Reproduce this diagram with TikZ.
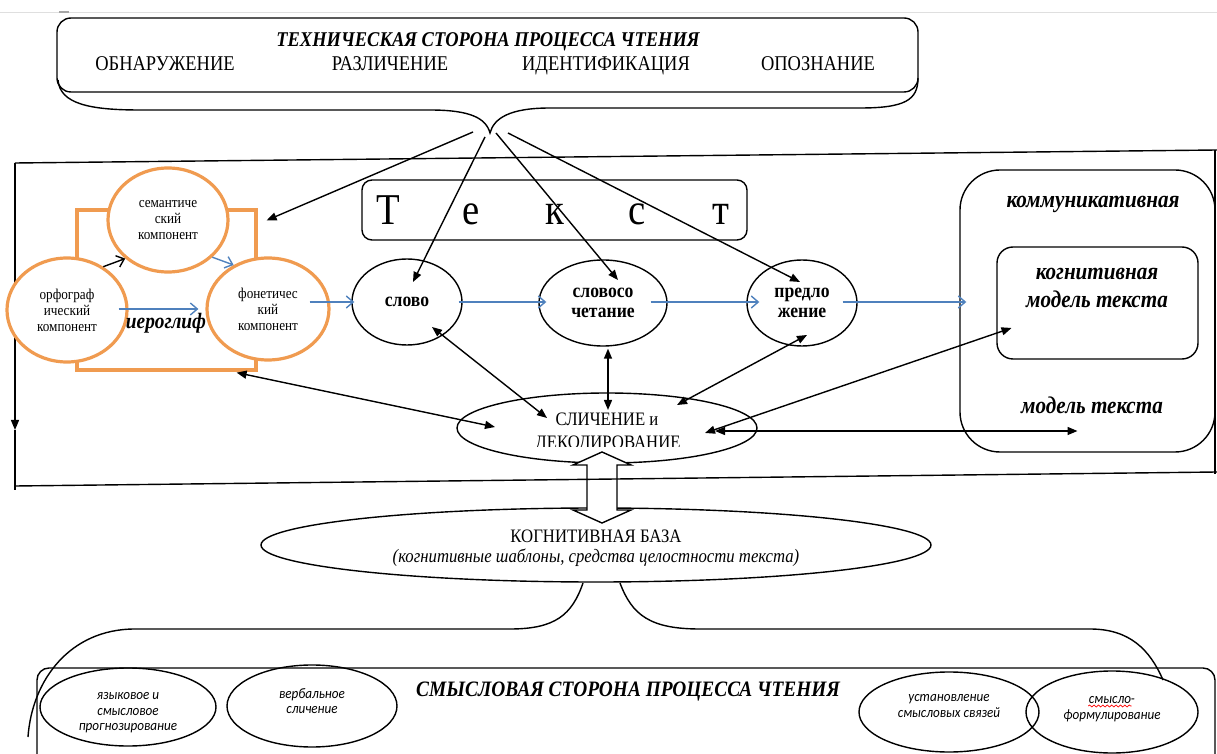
\documentclass[tikz,border=0pt]{standalone}
\usepackage{fontspec}
\setmainfont{Liberation Serif}[FakeStretch=0.88]
\newfontfamily\calib{Carlito}[FakeStretch=0.9]
\usetikzlibrary{arrows.meta,shapes.geometric,calc,decorations.pathmorphing}
\definecolor{orng}{RGB}{240,155,80}
\definecolor{blu}{RGB}{79,129,189}
\begin{document}
\begin{tikzpicture}[x=0.5pt,y=-0.5pt,line width=0.7pt,
  blk/.style={-{Triangle[length=5pt,width=4pt]}},
  dbl/.style={{Triangle[length=5pt,width=4pt]}-{Triangle[length=5pt,width=4pt]}},
  bl/.style={blu,line width=0.7pt,-{Straight Barb[length=3.5pt,width=6pt]}},
  kb/.style={-{Straight Barb[length=3.5pt,width=6pt]}},
  oell/.style={ellipse,draw=orng,line width=1.6pt,fill=white,inner sep=0pt,align=center,font=\fontsize{7.5}{8}\selectfont},
  bell/.style={ellipse,draw,fill=white,inner sep=0pt,align=center,font=\bfseries\fontsize{10}{10}\selectfont},
  sell/.style={ellipse,draw,inner sep=0pt},
  stxt/.style={align=center,inner sep=0pt,font=\calib\itshape\fontsize{7.3}{7.75}\selectfont},
  bi/.style={font=\bfseries\itshape\fontsize{#1}{#1}\selectfont,inner sep=0pt,text height=0.7em,text depth=0.15em},
  rg/.style={font=\fontsize{#1}{#1}\selectfont,inner sep=0pt,text height=0.7em,text depth=0.15em}
]
\useasboundingbox (0,0) rectangle (1217,754);
% faint top line
\draw[gray!25,line width=0.4pt] (0,12) -- (1217,12);
\draw[gray!70,line width=0.6pt] (59,12) -- (69,12);

% top box
\node[draw,rounded corners=7pt,minimum width=430.5pt,minimum height=37pt] (tbox) at (487.5,55) {};
\node[bi=10.5] (ttitle) at (488,41) {ТЕХНИЧЕСКАЯ СТОРОНА ПРОЦЕССА ЧТЕНИЯ};
\node[rg=10.5] (t1) at (165,65) {ОБНАРУЖЕНИЕ};
\node[rg=10.5] (t2) at (390,65) {РАЗЛИЧЕНИЕ};
\node[rg=10.5] (t3) at (606,65) {ИДЕНТИФИКАЦИЯ};
\node[rg=10.5] (t4) at (818,65) {ОПОЗНАНИЕ};
\coordinate (tp) at (490,133);
\draw (58,80) .. controls (60,104) and (90,110) .. (140,110) -- (430,110)
      .. controls (470,110) and (486,118) .. (tp)
      .. controls (494,118) and (510,108) .. (550,108) -- (860,108)
      .. controls (905,108) and (918,100) .. (918,78);

% big frame
\draw (15,163) -- (1217,150);
\draw (1215,150) -- (1215,474);
\draw[blk] (15,163) -- (15,430);
\draw (15,430) -- (15,490);

% Text box
\node[draw,rounded corners=5pt,minimum width=192.5pt,minimum height=30pt,inner sep=0pt,
      font=\fontsize{22}{22}\selectfont] (tekst) at (554.5,210)
  {\makebox[0pt]{\makebox[41.5pt]{Т}\makebox[41.5pt]{е}\makebox[41.5pt]{к}\makebox[41.5pt]{с}\makebox[41.5pt]{т}}};

% orange group
\node[draw=orng,line width=1.6pt,minimum width=89.5pt,minimum height=80pt,inner sep=0pt] (orect) at (166.5,290) {};
\node[oell,minimum width=60pt,minimum height=52pt] (sem) at (168,220) {семантиче\\ский\\компонент};
\node[oell,minimum width=60pt,minimum height=52pt] (orth) at (67,310) {орфограф\\ический\\компонент};
\node[oell,minimum width=61pt,minimum height=51pt] (phon) at (268,309) {фонетичес\\кий\\компонент};
\node[bi=11] (hier) at (166,323) {иероглиф};
\draw[kb] (orth.50) -- (sem.222);
\draw[bl] (sem.320) -- (phon.128);
\draw[bl] ($(orth.east)+(-10,-1)$) -- ($(phon.west)+(-7,0)$);

% word ellipses
\node[bell,minimum width=55pt,minimum height=43pt] (slovo) at (407,302) {слово};
\node[bell,minimum width=64pt,minimum height=43pt] (sloch) at (603,303) {словосо\\четание};
\node[bell,minimum width=55pt,minimum height=43pt] (pred) at (802,303) {предло\\жение};
\draw[bl] ($(phon.east |- slovo.west)+(-21,0)$) -- ($(slovo.west)+(3,0)$);
\draw[bl] ($(slovo.east)+(-4,0)$) -- ($(sloch.west)+(8,-1)$);
\draw[bl] ($(sloch.east)+(-17,-1)$) -- ($(pred.west)+(13,-1)$);

% right boxes
\node[draw,rounded corners=20pt,minimum width=127.5pt,minimum height=141pt,inner sep=0pt] (kbox) at (1087.5,311) {};
\node[bi=12] (kom) at (1093,202) {коммуникативная};
\node[draw,rounded corners=8pt,minimum width=100.5pt,minimum height=56pt,inner sep=0pt] (cbox) at (1097.5,303) {};
\node[bi=12] (cogt1) at (1097,274) {когнитивная};
\node[bi=12] (cogt2) at (1097,302) {модель текста};
\node[bi=12] (mod) at (1092,408) {модель текста};
\draw[bl] ($(pred.east)+(-15,-1)$) -- ($(kbox.west |- pred.east)+(7,-1)$);

% orientation arrows from the top
\draw[blk] ($(tp)+(-17,-1)$) -- ($(orect.north east)+(9,12)$);
\draw[blk] ($(tp)+(-5,4)$) -- ($(slovo)+(6,-20)$);
\draw[blk] ($(tp)+(6,0)$) -- ($(sloch)+(15,-23)$);
\draw[blk] ($(tp)+(18,0)$) -- ($(pred)+(-2,-21)$);

% comparison ellipse
\node[ellipse,draw,minimum width=150pt,minimum height=35pt,inner sep=0pt] (slich) at (607,428) {};
\node[rg=9.5] (slicht1) at (607,420) {СЛИЧЕНИЕ и};
\begin{scope}
  \clip (440,380) rectangle (780,447);
  \node[rg=9.5] (slicht2) at (608,443) {ДЕКОДИРОВАНИЕ};
\end{scope}
\draw[dbl] ($(orect.south east)+(-21,1)$) -- ($(slich)+(-112,-1)$);
\draw[dbl] ($(slovo)+(25,25)$) -- ($(slich)+(-60,-10)$);
\draw[dbl] ($(sloch.south)+(5,2)$) -- ($(slich)+(1,-18)$);
\draw[dbl] ($(pred)+(5,32)$) -- ($(slich)+(70,-23)$);
\draw[dbl] ($(cbox)+(-86,25)$) -- ($(slich)+(98,5)$);
\draw[dbl] ($(slich)+(108,3)$) -- ($(kbox)+(-10,120)$);

% cognitive base
\node[ellipse,draw,minimum width=335pt,minimum height=37pt,inner sep=0pt] (kbase) at (596,545) {};
\node[rg=9.5] (kbt) at (596,537) {КОГНИТИВНАЯ БАЗА};
\node[font=\itshape\fontsize{9.5}{9.5}\selectfont,inner sep=0pt] (kbi) at (596,558) {(когнитивные шаблоны, средства целостности текста)};

% hollow double arrow
\draw[fill=white] (602,452) -- (631,465) -- (617,465) -- (617,510) -- (631,510) -- (602,523)
   -- (573,510) -- (587,510) -- (587,465) -- (573,465) -- cycle;
\draw (15,486) -- (1217,472);

% bottom brace
\draw (583,583) .. controls (572,615) and (555,629) .. (510,629) -- (135,629)
      .. controls (70,629) and (32,680) .. (28,737);
\draw (620,583) .. controls (632,615) and (650,629) .. (700,629) -- (1090,629)
      .. controls (1130,629) and (1150,650) .. (1163,680);

% bottom box
\draw[rounded corners=6pt] (37,756) -- (37,668) -- (1215,668) -- (1215,756);
\node[bi=11] (smt) at (628,691) {СМЫСЛОВАЯ СТОРОНА ПРОЦЕССА ЧТЕНИЯ};
\node[sell,minimum width=88pt,minimum height=39pt] (yaz) at (128,707) {};
\node[stxt] (yazt) at (128,713) {языковое и\\смысловое\\прогнозирование};
\node[sell,minimum width=85pt,minimum height=41pt] (verb) at (312,706) {};
\node[stxt] (verbt) at (312,701) {вербальное\\сличение};
\node[sell,minimum width=90pt,minimum height=40pt] (ust) at (949,712) {};
\node[stxt] (ustt) at (949,706) {установление\\смысловых связей};
\node[sell,minimum width=86pt,minimum height=41pt] (smf) at (1112,712) {};
\node[stxt,anchor=base] (smf1) at (1112,703) {смысло-};
\node[stxt,anchor=base] (smf2) at (1112,719) {формулирование};
\draw[red,line width=0.35pt,decorate,decoration={snake,amplitude=0.5pt,segment length=2.2pt}]
  ($(smf1.base west)+(0,3)$) -- ($(smf1.base east)+(-4,3)$);
\end{tikzpicture}
\end{document}
